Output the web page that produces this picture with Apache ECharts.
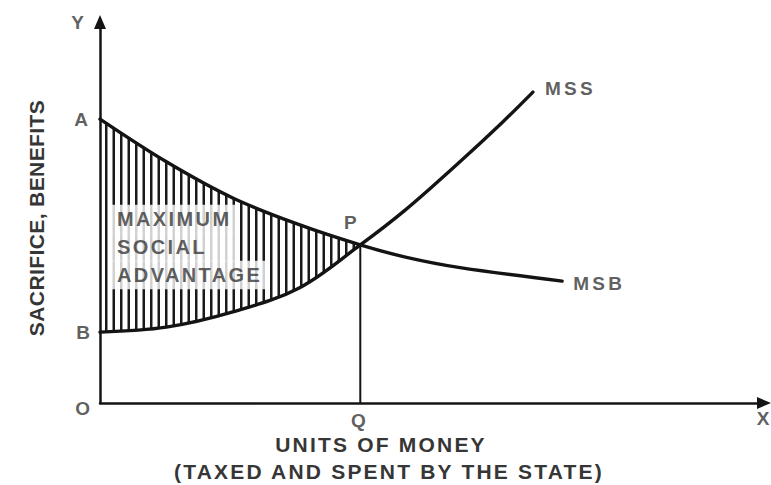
<!DOCTYPE html>
<html>
<head>
<meta charset="utf-8">
<script src="https://cdn.jsdelivr.net/npm/echarts@6/dist/echarts.min.js"></script>
<style>html,body{margin:0;padding:0;background:#fff}#c{width:771px;height:485px}</style>
</head>
<body>
<div id="c"></div>
<script>
// ---- data (axis units 0..100) ----
const msbX = [0, 10, 20, 30, 39.2, 46, 54, 69.6];
const msbY = [74.5, 63.3, 53.8, 46.8, 41.5, 38.3, 35.6, 32];
const mssX = [0, 10, 20, 30, 39.2, 46, 54, 60.5, 65.2];
const mssY = [18.6, 19.9, 23.9, 30.2, 41.5, 50.7, 63, 73.5, 81.6];
const pIndex = 4; // index of intersection P in both arrays
const curveNames = ['MSB', 'MSS'];
const pointNames = ['A', 'B', 'P', 'Q', 'O', 'X', 'Y'];
const areaText = ['MAXIMUM', 'SOCIAL', 'ADVANTAGE'];
const xTitle = ['UNITS OF MONEY', '(TAXED AND SPENT BY THE STATE)'];
const yTitle = 'SACRIFICE, BENEFITS';

const FONT = '"Liberation Sans", Arial, Helvetica, sans-serif';
const INK = '#141414';
const TXT = '#363636';
const spacing = {};
spacing[xTitle[0]] = 2.2; spacing[xTitle[1]] = 2.2; spacing[yTitle] = 0.4;
areaText.forEach(t => spacing[t] = 2.4);
curveNames.forEach(t => spacing[t] = 3.3);

const zip = (xs, ys) => xs.map((x, i) => [x, ys[i]]);

// hatch pattern: vertical lines
const pc = document.createElement('canvas');
pc.width = 15; pc.height = 4;
const g = pc.getContext('2d');
g.fillStyle = '#fff'; g.fillRect(0, 0, 15, 4);
g.fillStyle = '#1a1a1a';
g.fillRect(0, 0, 2.5, 4); g.fillRect(7.5, 0, 2.5, 4);

const chart = echarts.init(document.getElementById('c'), null, {renderer: 'svg'});
const lblBase = {show: true, color: TXT, fontFamily: FONT, fontSize: 19, fontWeight: 'bold'};
const annot = [
  {value: [msbX[0], msbY[0]], label: {formatter: pointNames[0], position: 'left', distance: 12}},
  {value: [mssX[0], mssY[0]], label: {formatter: pointNames[1], position: 'left', distance: 10}},
  {value: [msbX[pIndex], msbY[pIndex]], label: {formatter: pointNames[2], position: 'top', distance: 13, offset: [-10, 0]}},
  {value: [msbX[pIndex], 0], label: {formatter: pointNames[3], position: 'bottom', distance: 8, offset: [-2, 0]}},
  {value: [0, 0], label: {formatter: pointNames[4], position: 'left', distance: 10, offset: [0, 5]}},
  {value: [100, 0], label: {formatter: pointNames[5], position: 'bottom', distance: 6, offset: [-1, 0]}},
  {value: [0, 100], label: {formatter: pointNames[6], position: 'left', distance: 16}},
  {value: [msbX[msbX.length - 1], msbY[msbY.length - 1]], label: {formatter: curveNames[0], position: 'right', distance: 11, offset: [0, 2]}},
  {value: [mssX[mssX.length - 1], mssY[mssY.length - 1]], label: {formatter: curveNames[1], position: 'right', distance: 12, offset: [0, -4]}}
];
const blockY = [48.3, 40.9, 33.6];
const blockW = [121, 121, 152];
const block = areaText.map((t, i) => ({
  value: [1.5, blockY[i]],
  label: {formatter: t, position: 'right', distance: 0, fontSize: 20, width: blockW[i], overflow: 'none',
    backgroundColor: '#fff', padding: [5, 0, 5.3, 7], lineHeight: 18}
}));

chart.setOption({
  animation: false,
  backgroundColor: '#fff',
  grid: {left: 100, right: 7, top: 22, bottom: 82},
  xAxis: {type: 'value', min: 0, max: 100, z: 10,
    axisLine: {lineStyle: {color: INK, width: 2.5}, symbol: ['none', 'triangle'], symbolSize: [12, 14]},
    axisTick: {show: false}, axisLabel: {show: false}, splitLine: {show: false}},
  yAxis: {type: 'value', min: 0, max: 100, z: 10,
    axisLine: {lineStyle: {color: INK, width: 2.5}, symbol: ['none', 'triangle'], symbolSize: [12, 14]},
    axisTick: {show: false}, axisLabel: {show: false}, splitLine: {show: false}},
  graphic: [
    {type: 'text', x: 381, y: 444, style: {text: xTitle[0], font: 'bold 21px ' + FONT, fill: TXT, align: 'center', verticalAlign: 'middle'}},
    {type: 'text', x: 389, y: 471, style: {text: xTitle[1], font: 'bold 21px ' + FONT, fill: TXT, align: 'center', verticalAlign: 'middle'}},
    {type: 'text', x: 36, y: 218, rotation: Math.PI / 2, style: {text: yTitle, font: 'bold 21px ' + FONT, fill: TXT, align: 'center', verticalAlign: 'middle'}}
  ],
  series: [
    {type: 'line', name: 'hatch', data: zip(msbX.slice(0, pIndex + 1), msbY.slice(0, pIndex + 1)), smooth: 0.35,
      showSymbol: false, silent: true, z: 2, lineStyle: {width: 0, opacity: 0},
      areaStyle: {color: {image: pc, repeat: 'repeat'}, opacity: 1}},
    {type: 'line', name: 'mask', data: zip(mssX.slice(0, pIndex + 1), mssY.slice(0, pIndex + 1)), smooth: 0.35,
      showSymbol: false, silent: true, z: 3, lineStyle: {width: 0, opacity: 0},
      areaStyle: {color: '#fff', opacity: 1}},
    {type: 'line', name: 'MSB', data: zip(msbX, msbY), smooth: 0.35, showSymbol: false, z: 4,
      lineStyle: {color: INK, width: 3.4, cap: 'round'}},
    {type: 'line', name: 'MSS', data: zip(mssX, mssY), smooth: 0.35, showSymbol: false, z: 4,
      lineStyle: {color: INK, width: 3.4, cap: 'round'}},
    {type: 'line', name: 'PQ', data: [[msbX[pIndex], 0], [msbX[pIndex], msbY[pIndex]]], showSymbol: false, z: 4,
      lineStyle: {color: INK, width: 2}},
    {type: 'scatter', name: 'block', data: block, symbolSize: 0, z: 5, silent: true, label: lblBase},
    {type: 'scatter', name: 'annot', data: annot, symbolSize: 0, z: 6, silent: true, label: lblBase}
  ]
});

function applySpacing() {
  document.querySelectorAll('#c text').forEach(t => {
    const s = spacing[t.textContent.trim()];
    if (s != null) t.setAttribute('letter-spacing', s);
  });
}
applySpacing();
chart.on('finished', applySpacing);
setTimeout(applySpacing, 50);
</script>
</body>
</html>
